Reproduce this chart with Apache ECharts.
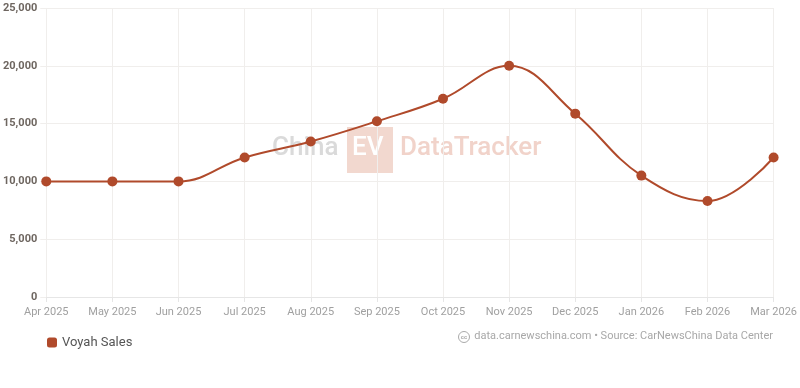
<!DOCTYPE html>
<html><head><meta charset="utf-8">
<script src="https://cdn.jsdelivr.net/npm/echarts@6/dist/echarts.min.js"></script>
<style>html,body{margin:0;padding:0;background:#fff}#c{width:800px;height:388px}</style>
</head><body><div id="c"></div>
<script>
const categories = ['Apr 2025','May 2025','Jun 2025','Jul 2025','Aug 2025','Sep 2025','Oct 2025','Nov 2025','Dec 2025','Jan 2026','Feb 2026','Mar 2026'];
const sales = [10000, 10000, 10000, 12070, 13450, 15200, 17150, 20000, 15860, 10500, 8300, 12070];
const seriesName = 'Voyah Sales';
const footer = 'data.carnewschina.com • Source: CarNewsChina Data Center';

const chart = echarts.init(document.getElementById('c'), null, {renderer:'canvas'});
const F = 'Roboto, "Noto Sans", sans-serif';
chart.setOption({
  animation:false,
  grid:{left:46, right:26, top:8, bottom:91},
  graphic:[
    {type:'text', left:272, top:135, z:0, style:{text:'China', font:'500 26px '+F, fill:'#dadada'}},
    {type:'rect', left:347, top:127, z:0, shape:{width:46,height:46}, style:{fill:'#f2d8cf'}},
    {type:'text', left:352, top:135, z:0, style:{text:'EV', font:'500 26px '+F, fill:'#ffffff'}},
    {type:'text', left:400, top:135, z:0, style:{text:'DataTracker', font:'500 26px '+F, fill:'#f1d3ca'}},
    {type:'circle', x:464, y:337, shape:{r:5.5}, style:{fill:'none', stroke:'#aaa', lineWidth:1}},
    {type:'text', x:464, y:337, style:{text:'cc', font:'bold 6px '+F, fill:'#aaa', align:'center', verticalAlign:'middle'}},
    {type:'text', right:27, top:331, style:{text:footer, font:'11px '+F, fill:'#a8a8a8'}}
  ],
  legend:{left:42, top:331, itemWidth:10, itemHeight:10, icon:'roundRect', itemGap:10,
    textStyle:{color:'#555', fontSize:13, fontFamily:F}},
  xAxis:{type:'category', data:categories, boundaryGap:false,
    axisLine:{lineStyle:{color:'#e6e6e6'}},
    axisTick:{show:true, length:5, lineStyle:{color:'#e6e6e6'}},
    axisLabel:{color:'#a0a0a0', fontSize:11, fontFamily:F, margin:10, interval:0},
    splitLine:{show:true, lineStyle:{color:'#f0eeec'}}},
  yAxis:{type:'value', min:0, max:25000, interval:5000,
    axisLine:{show:false},
    axisTick:{show:true, length:6, lineStyle:{color:'#f0eeec'}},
    axisLabel:{color:'#6e6660', fontSize:11, fontWeight:'bold', fontFamily:F, margin:9,
      formatter:v=>v.toLocaleString('en-US')},
    splitLine:{lineStyle:{color:'#f0eeec'}}},
  series:[{name:seriesName, type:'line', data:sales, smooth:0.4,
    symbol:'circle', symbolSize:10, z:5,
    itemStyle:{color:'#b04a2b'}, lineStyle:{color:'#b04a2b', width:2}}]
});
</script></body></html>
